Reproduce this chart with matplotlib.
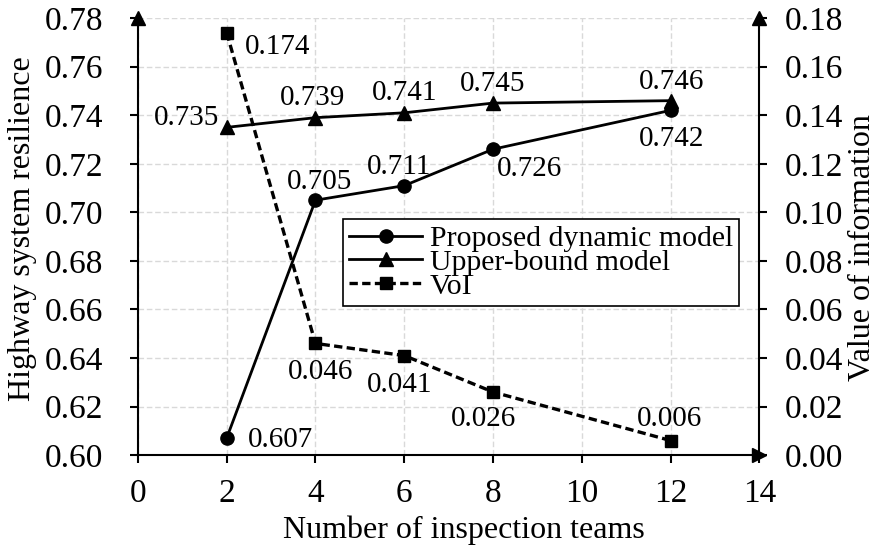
import matplotlib
matplotlib.use('Agg')
import matplotlib.pyplot as plt

plt.rcParams['font.family'] = ['Liberation Serif', 'DejaVu Serif']

# data
teams = [2, 4, 6, 8, 12]
proposed = [0.607, 0.705, 0.711, 0.726, 0.742]
upper = [0.735, 0.739, 0.741, 0.745, 0.746]
voi = [0.174, 0.046, 0.041, 0.026, 0.006]

fs_tick = 24
fs_lab = 23
fs_val = 21
fs_leg = 21.5

fig = plt.figure(figsize=(8.84, 5.49), dpi=100)
ax = fig.add_axes([0.156, 0.171, 0.703, 0.796])
ax2 = ax.twinx()

l1, = ax.plot(teams, proposed, '-', color='black', lw=2, marker='o', ms=9.5,
              label='Proposed dynamic model', clip_on=False)
l2, = ax.plot(teams, upper, '-', color='black', lw=2, marker='^', ms=9.5,
              label='Upper-bound model', clip_on=False)
l3, = ax2.plot(teams, voi, '--', color='black', lw=2.4, marker='s', ms=8.5,
               label='VoI', dashes=(2.5, 1.3), clip_on=False)

ax.set_xlim(0, 14)
ax.set_ylim(0.60, 0.78)
ax2.set_ylim(0.00, 0.18)
ax.set_xticks(range(0, 15, 2))
ax.set_yticks([0.60 + 0.02 * i for i in range(10)])
ax2.set_yticks([0.02 * i for i in range(10)])
ax.yaxis.set_major_formatter(matplotlib.ticker.FormatStrFormatter('%.2f'))
ax2.yaxis.set_major_formatter(matplotlib.ticker.FormatStrFormatter('%.2f'))

ax.grid(True, color='#d9d9d9', linestyle=(0, (4, 2)), lw=1)
ax.set_axisbelow(True)

for a in (ax, ax2):
    a.spines['top'].set_visible(False)
    for s in a.spines.values():
        s.set_linewidth(1.5)
    a.tick_params(direction='out', length=6, width=1.5, labelsize=fs_tick)
ax2.spines['left'].set_visible(False)
ax2.spines['bottom'].set_visible(False)
ax.spines['right'].set_visible(False)
ax.tick_params(axis='x', pad=11)
ax.tick_params(axis='y', pad=19)
ax2.tick_params(axis='y', pad=12)

# arrow heads on axes
ax.plot([0], [1], marker='^', color='black', ms=10, transform=ax.transAxes, clip_on=False)
ax.plot([1], [1], marker='^', color='black', ms=10, transform=ax.transAxes, clip_on=False)
ax.plot([1], [0], marker='>', color='black', ms=10, transform=ax.transAxes, clip_on=False)

ax.set_xlabel('Number of inspection teams', fontsize=fs_lab)
ax.set_ylabel('Highway system resilience', fontsize=fs_lab)
ax2.set_ylabel('Value of information', fontsize=fs_lab)
ax.xaxis.set_label_coords(0.525, -0.172)
ax.xaxis.label.set_va('center')
ax.yaxis.set_label_coords(-0.185, 0.518)
ax.yaxis.label.set_va('center')
ax2.yaxis.set_label_coords(1.166, 0.476)
ax2.yaxis.label.set_va('center')

# value labels
def lab(a, x, y, txt, dx, dy, ha='center'):
    a.annotate(txt, (x, y), xytext=(dx, dy - 1.5), textcoords='offset points',
               ha=ha, va='center', fontsize=fs_val)

lab(ax, 2, 0.607, '0.607', 15, 0, ha='left')
lab(ax, 4, 0.705, '0.705', 3, 14.5)
lab(ax, 6, 0.711, '0.711', -4, 15)
lab(ax, 8, 0.726, '0.726', 3, -13, ha='left')
lab(ax, 12, 0.742, '0.742', 1, -19)

lab(ax, 2, 0.735, '0.735', -5, 8, ha='right')
lab(ax, 4, 0.739, '0.739', -2, 16)
lab(ax, 6, 0.741, '0.741', 0, 16)
lab(ax, 8, 0.745, '0.745', 0, 15)
lab(ax, 12, 0.746, '0.746', 1, 15)

lab(ax2, 2, 0.174, '0.174', 13, -9, ha='left')
lab(ax2, 4, 0.046, '0.046', 4, -19)
lab(ax2, 6, 0.041, '0.041', -3, -19.5)
lab(ax2, 8, 0.026, '0.026', -7, -18)
lab(ax2, 12, 0.006, '0.006', -1, 17)

leg = ax2.legend(handles=[l1, l2, l3], loc='upper left', bbox_to_anchor=(0.330, 0.540),
                 fontsize=fs_leg, frameon=True, fancybox=False, edgecolor='black',
                 framealpha=1, handlelength=2.45, borderpad=0.2, labelspacing=-0.1,
                 handletextpad=0.25, borderaxespad=0)
leg.get_frame().set_linewidth(1.2)

fig.savefig('out.png', dpi=100)
